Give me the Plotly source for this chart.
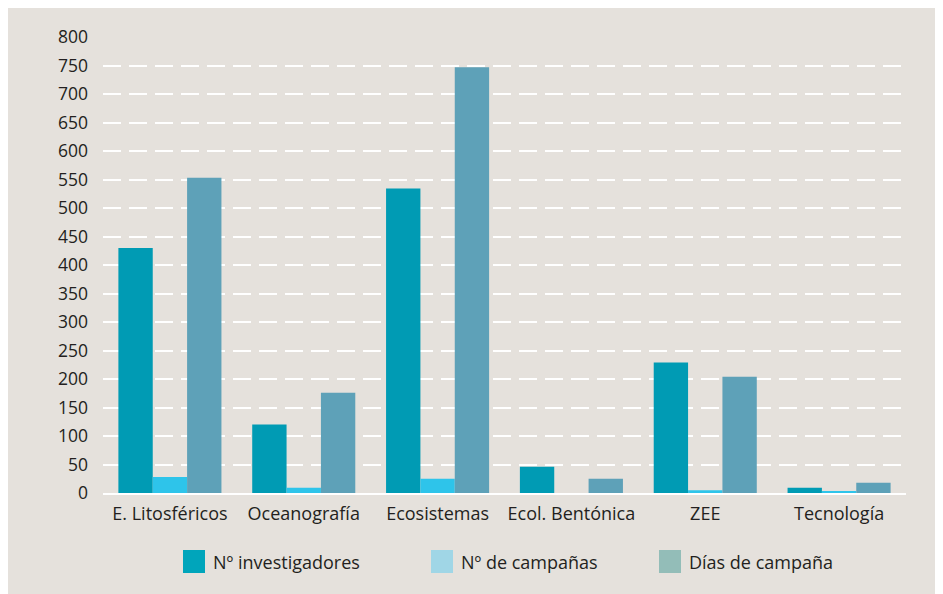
import plotly.graph_objects as go

categories = ["E. Litosféricos", "Oceanografía", "Ecosistemas", "Ecol. Bentónica", "ZEE", "Tecnología"]
series_names = ["Nº investigadores", "Nº de campañas", "Días de campaña"]
investigadores = [430, 120, 534, 46, 229, 9]
campanas = [28, 9, 25, 0, 5, 2]
dias = [553, 176, 747, 25, 204, 18]
y_ticks = list(range(0, 801, 50))

bar_colors = ["#009BB4", "#2EC4EA", "#5EA1B8"]
legend_colors = ["#00A5BB", "#A0D6E6", "#93BDB8"]
BG = "#E5E1DC"
TXT = "#231F20"
FONT = "Open Sans"

fig = go.Figure()
for name, vals, col in zip(series_names, [investigadores, campanas, dias], bar_colors):
    fig.add_trace(go.Bar(x=categories, y=vals, name=name, marker=dict(color=col, line=dict(width=0)),
                         showlegend=False))

W, H = 960, 610
OFF = 8  # page body margin
ml, mt = 103 - OFF, 37 - OFF
pw, ph = 906 - 103, 493 - 37
mr, mb = W - ml - pw, H - mt - ph

def px(x):
    return (x - OFF - ml) / pw

def py(y):
    return (mt + ph - (y - OFF)) / ph

shapes = []
annotations = []
legend_x = [183, 431, 659]
for name, col, lx in zip(series_names, legend_colors, legend_x):
    shapes.append(dict(type="rect", xref="paper", yref="paper", x0=px(lx), x1=px(lx + 22),
                       y0=py(573), y1=py(550), fillcolor=col, line=dict(width=0)))
    annotations.append(dict(xref="paper", yref="paper", x=px(lx + 28), y=py(562), text=name,
                            showarrow=False, xanchor="left", yanchor="middle",
                            font=dict(family=FONT, size=18, color=TXT)))

fig.update_layout(
    width=W, height=H,
    margin=dict(l=ml, r=mr, t=mt, b=mb),
    paper_bgcolor=BG, plot_bgcolor=BG,
    barmode="group", bargap=0.23, bargroupgap=0,
    shapes=shapes, annotations=annotations,
    font=dict(family=FONT, size=17, color=TXT),
    xaxis=dict(showgrid=False, showline=True, linecolor="white", linewidth=2,
               ticks="", tickfont=dict(family=FONT, size=18, color=TXT), ticklabelstandoff=3),
    yaxis=dict(range=[0, 800], tickvals=y_ticks, showgrid=True, gridcolor="white", gridwidth=2,
               griddash="18px,8px", zeroline=False, showline=False, ticks="",
               tickfont=dict(family=FONT, size=17.5, color=TXT), ticklabelstandoff=14),
)
fig.write_html("out.html")
